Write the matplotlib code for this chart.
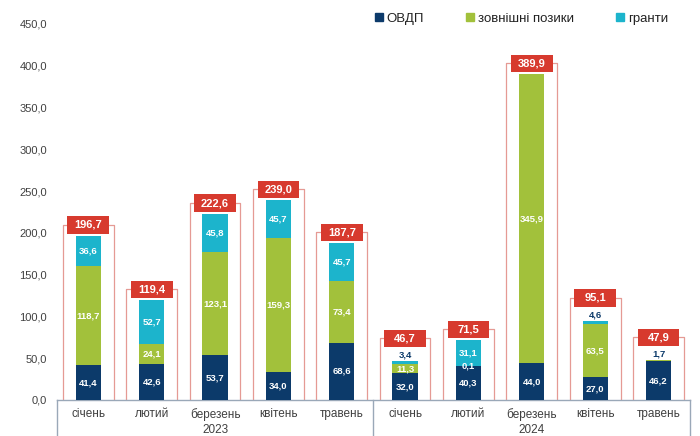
import numpy as np
import matplotlib.pyplot as plt
import matplotlib.transforms as mtransforms
from matplotlib.patches import Rectangle, Patch

plt.rcParams['font.family'] = ['Liberation Sans', 'DejaVu Sans']

# дані
misiatsi = ['січень', 'лютий', 'березень', 'квітень', 'травень',
            'січень', 'лютий', 'березень', 'квітень', 'травень']
roky = ['2023', '2024']
ovdp = [41.4, 42.6, 53.7, 34.0, 68.6, 32.0, 40.3, 44.0, 27.0, 46.2]
pozyky = [118.7, 24.1, 123.1, 159.3, 73.4, 11.3, 0.1, 345.9, 63.5, 1.7]
granty = [36.6, 52.7, 45.8, 45.7, 45.7, 3.4, 31.1, 0.0, 4.6, 0.0]
razom = [196.7, 119.4, 222.6, 239.0, 187.7, 46.7, 71.5, 389.9, 95.1, 47.9]

kolir_ovdp = '#0c3a6a'
kolir_pozyky = '#a2c13b'
kolir_granty = '#1cb4cc'
kolir_chervonyi = '#d73a2e'
kolir_ramky = '#e59a94'
kolir_tekstu = '#404040'


def fmt(v):
    return f'{v:.1f}'.replace('.', ',')


def gera_grafik():
    fig = plt.figure(figsize=(7, 4.36), dpi=100)
    ax = fig.add_axes([0.081, 0.0826, 0.905, 0.8624])

    x = np.arange(len(misiatsi))
    w = 0.4
    seriyi = [(ovdp, kolir_ovdp), (pozyky, kolir_pozyky), (granty, kolir_granty)]
    niz = np.zeros(len(x))
    for znach, kolir in seriyi:
        znach = np.array(znach)
        ax.bar(x, znach, w, bottom=niz, color=kolir, zorder=3)
        for i, v in enumerate(znach):
            if v <= 0:
                continue
            verkh = abs(niz[i] + v - razom[i]) < 0.05
            if v < 6 and verkh:
                ax.text(x[i], razom[i] + 7, fmt(v), ha='center', va='center',
                        fontsize=6.8, fontweight='bold', color=kolir_ovdp, zorder=5)
            else:
                ax.text(x[i], niz[i] + v / 2, fmt(v), ha='center', va='center',
                        fontsize=6.8, fontweight='bold', color='white', zorder=5)
        niz = niz + znach

    # рамки та підсумки
    for i, t in enumerate(razom):
        mala = (granty[i] > 0 and granty[i] < 6) or (granty[i] == 0 and pozyky[i] < 6)
        yc = t + (27 if mala else 13)
        ax.plot([x[i] - 0.4, x[i] - 0.4, x[i] + 0.4, x[i] + 0.4],
                [0, yc, yc, 0], color=kolir_ramky, lw=0.9, zorder=2)
        ax.add_patch(Rectangle((x[i] - 0.33, yc - 10.5), 0.66, 21,
                               facecolor=kolir_chervonyi, edgecolor='none', zorder=4))
        ax.text(x[i], yc, fmt(t), ha='center', va='center', fontsize=8,
                fontweight='bold', color='white', zorder=5)

    ax.set_xlim(-0.5, 9.5)
    ax.set_ylim(0, 450)
    ax.set_yticks(np.arange(0, 451, 50))
    ax.set_yticklabels([fmt(v) for v in np.arange(0, 451, 50)])
    ax.set_xticks(x)
    ax.set_xticklabels(misiatsi)
    ax.tick_params(axis='both', length=0, colors=kolir_tekstu, labelsize=8)
    ax.tick_params(axis='x', pad=6, labelsize=8.5)
    ax.tick_params(axis='y', pad=7)

    for s in ['top', 'right', 'left']:
        ax.spines[s].set_visible(False)
    ax.spines['bottom'].set_color('#9aa8b8')
    ax.spines['bottom'].set_linewidth(1)

    trans = mtransforms.blended_transform_factory(ax.transData, ax.transAxes)
    for xs in [-0.5, 4.5, 9.5]:
        ax.plot([xs, xs], [0, -0.15], color='#9aa8b8', lw=1,
                transform=trans, clip_on=False)
    for xr, r in zip([2, 7], roky):
        ax.text(xr, -0.095, r, transform=trans, ha='center', va='bottom',
                fontsize=8.5, color=kolir_tekstu)

    ruchky = [Patch(color=kolir_ovdp, label='ОВДП'),
              Patch(color=kolir_pozyky, label='зовнішні позики'),
              Patch(color=kolir_granty, label='гранти')]
    fig.legend(handles=ruchky, loc='center', bbox_to_anchor=(0.745, 0.957),
               ncol=3, frameon=False, fontsize=9.5, handlelength=0.6,
               handleheight=0.6, handletextpad=0.3, columnspacing=3.2,
               labelcolor='#222222')

    plt.savefig('out.png', dpi=100)


if __name__ == '__main__':
    gera_grafik()
